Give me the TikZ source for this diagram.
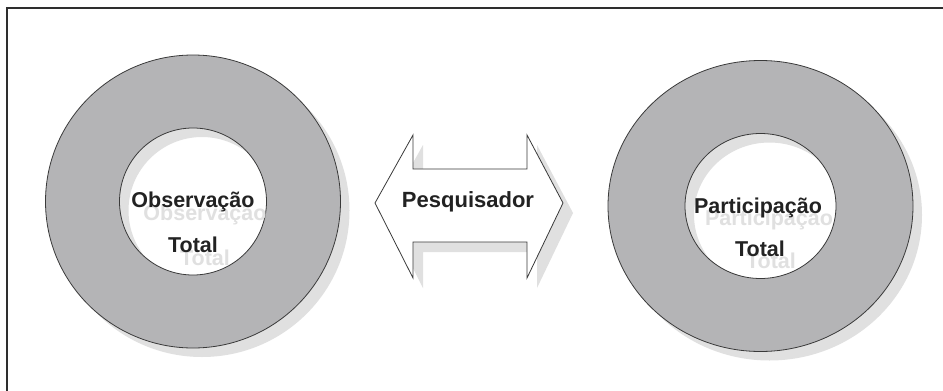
\documentclass[tikz,border=0pt]{standalone}
\usepackage{fontspec}
\setmainfont{Liberation Sans}
\usetikzlibrary{shapes.geometric,calc}
\definecolor{ringc}{HTML}{B4B4B6}
\definecolor{linec}{HTML}{3A3A3A}
\definecolor{shadc}{HTML}{E0E0E0}
\definecolor{txtc}{HTML}{222222}
\definecolor{tshadc}{HTML}{E0E0E0}
\definecolor{framec}{HTML}{2E2E2E}
\tikzset{
  lbl/.style={font=\bfseries\fontsize{21.5}{21.5}\selectfont, text=txtc, inner sep=0pt, anchor=base},
  lblshadow/.style={lbl, text=tshadc},
  ring/.style={draw=linec, fill=ringc, even odd rule, line width=0.8pt},
  ringshadow/.style={fill=shadc, even odd rule},
  arrowbox/.style={draw=linec, fill=white, line width=0.8pt, line join=miter},
}
\begin{document}
\begin{tikzpicture}[x=1pt,y=-1pt]
\useasboundingbox (0,0) rectangle (943,391);
\clip (0,0) rectangle (943,391);
\fill[white] (0,0) rectangle (943,391);
% frame (right and bottom sides lie outside the picture)
\draw[framec, line width=1.4pt] (7,8) rectangle (980,420);

% centres
\coordinate (L) at (193,201.5);
\coordinate (R) at (760.5,206);

% ring shadows
\fill[ringshadow] ($(L)+(9,9)$) ellipse [x radius=147.5, y radius=146.5]
                  ($(L)+(9,9)$) ellipse [x radius=73.5, y radius=73.5];
\fill[ringshadow] ($(R)+(9,9)$) ellipse [x radius=152.5, y radius=145.5]
                  ($(R)+(9,9)$) ellipse [x radius=75.5, y radius=72.5];
% rings
\path[ring] (L) ellipse [x radius=147.5, y radius=146.5]
            (L) ellipse [x radius=73.5, y radius=73.5];
\path[ring] (R) ellipse [x radius=152.5, y radius=145.5]
            (R) ellipse [x radius=75.5, y radius=72.5];

% text shadows
\node[lblshadow] (obss) at (205,220.5) {Observação};
\node[lblshadow] (tots1) at (205,265) {Total};
\node[lblshadow] (pars) at (769,225) {Participação};
\node[lblshadow] (tots2) at (771,268) {Total};

% texts
\node[lbl] (obs) at (193,207.5) {Observação};
\node[lbl] (tot1) at (193,252) {Total};
\node[lbl] (par) at (758,213) {Participação};
\node[lbl] (tot2) at (760,256) {Total};

% double arrow
\coordinate (a1) at (375,203);
\coordinate (a2) at (413,135);
\coordinate (a3) at (413,169);
\coordinate (a4) at (527,169);
\coordinate (a5) at (527,135);
\coordinate (a6) at (563,203);
\coordinate (a7) at (527,278);
\coordinate (a8) at (527,242);
\coordinate (a9) at (413,242);
\coordinate (a10) at (413,278);
\fill[shadc] ($(a1)+(10,10)$) -- ($(a2)+(10,10)$) -- ($(a3)+(10,10)$) -- ($(a4)+(10,10)$)
  -- ($(a5)+(10,10)$) -- ($(a6)+(10,10)$) -- ($(a7)+(10,10)$) -- ($(a8)+(10,10)$)
  -- ($(a9)+(10,10)$) -- ($(a10)+(10,10)$) -- cycle;
\draw[arrowbox] (a1) -- (a2) -- (a3) -- (a4) -- (a5) -- (a6) -- (a7) -- (a8) -- (a9) -- (a10) -- cycle;
\node[lbl, font=\bfseries\fontsize{22}{22}\selectfont] (pesq) at (468,207) {Pesquisador};
\end{tikzpicture}
\end{document}
